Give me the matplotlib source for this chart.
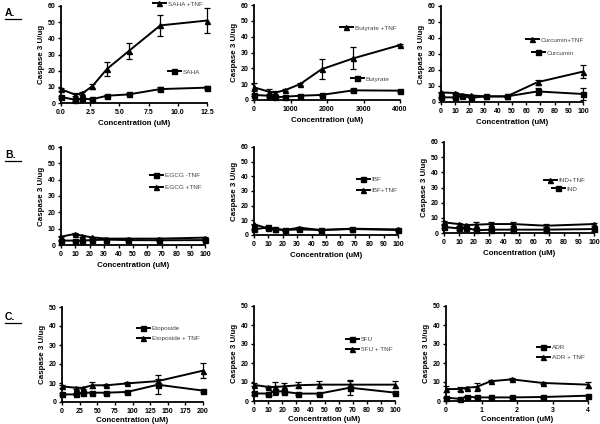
import matplotlib.pyplot as plt
from matplotlib.lines import Line2D

plt.rcParams['font.family'] = ['Liberation Sans', 'DejaVu Sans']

W, H = 600, 424

# ---- data ----
saha_x = [0, 1.24, 1.82, 2.67, 3.93, 5.78, 8.5, 12.5]
saha_tnf = [8.5, 5.1, 6.0, 10.3, 21.0, 32.0, 48.0, 51.0]
saha_tnf_err = [1.0, 0.8, 0.8, 1.5, 4.5, 5.0, 6.5, 7.5]
saha = [3.7, 2.0, 2.7, 2.3, 4.5, 5.3, 8.6, 9.5]
saha_err = [0.8, 0.5, 0.5, 0.5, 0.6, 0.6, 1.2, 1.0]

but_x = [0, 400, 580, 860, 1260, 1850, 2720, 4000]
but_tnf = [8.0, 5.3, 4.6, 6.3, 10.0, 19.4, 26.3, 34.7]
but_tnf_err = [2.5, 1.5, 0.8, 0.6, 0.6, 6.3, 7.0, 0.6]
but = [3.2, 2.7, 1.7, 2.1, 2.7, 3.2, 6.1, 5.9]
but_err = [0.6, 0.5, 0.5, 0.4, 0.4, 0.5, 0.8, 0.6]

conc100 = [0, 9.9, 14.6, 21.4, 31.5, 46.3, 68, 100]

cur_tnf = [6.0, 5.6, 4.6, 4.1, 3.5, 3.5, 12.4, 19.0]
cur_tnf_err = [0.5, 0.6, 0.6, 0.5, 0.4, 0.5, 1.5, 4.0]
cur = [2.9, 2.9, 3.7, 2.7, 3.5, 3.5, 6.6, 5.0]
cur_err = [0.5, 0.5, 0.6, 0.5, 0.4, 0.4, 2.0, 4.0]

egcg = [2.7, 2.7, 2.7, 3.0, 3.3, 3.0, 2.9, 3.0]
egcg_err = [0.4, 0.4, 0.4, 0.4, 0.4, 0.4, 0.4, 0.4]
egcg_tnf = [5.1, 6.8, 5.7, 4.7, 3.9, 3.9, 3.9, 4.5]
egcg_tnf_err = [0.5, 0.6, 0.5, 0.5, 0.5, 0.5, 0.5, 0.5]

ibf = [3.8, 5.2, 4.3, 3.4, 3.8, 3.4, 4.1, 3.4]
ibf_err = [0.6, 0.6, 0.5, 0.5, 0.5, 0.5, 0.6, 0.6]
ibf_tnf = [7.2, 4.5, 3.8, 3.4, 5.0, 3.4, 4.3, 3.8]
ibf_tnf_err = [0.6, 0.5, 0.5, 0.5, 0.6, 0.5, 0.5, 0.5]

ind_tnf = [7.0, 5.9, 5.2, 5.5, 5.9, 5.9, 4.8, 5.9]
ind_tnf_err = [0.8, 1.0, 1.0, 2.0, 1.5, 1.5, 1.0, 1.0]
ind = [4.0, 3.0, 3.5, 1.8, 2.2, 2.2, 2.2, 2.6]
ind_err = [1.0, 1.0, 1.0, 1.0, 1.0, 1.0, 1.0, 1.0]

eto_x = [0, 19.8, 29.1, 42.8, 63, 92.6, 136, 200]
eto = [4.0, 4.0, 4.9, 4.9, 4.9, 5.3, 9.1, 6.0]
eto_err = [0.5, 0.5, 0.6, 0.5, 0.5, 0.5, 5.0, 0.5]
eto_tnf = [8.2, 7.5, 7.4, 8.8, 8.8, 9.8, 11.0, 16.5]
eto_tnf_err = [0.6, 0.5, 0.5, 1.5, 0.5, 0.5, 1.0, 4.0]

fu = [4.0, 3.9, 5.3, 4.9, 3.9, 3.9, 7.0, 4.4]
fu_err = [0.6, 0.5, 2.0, 0.8, 0.5, 0.5, 4.0, 0.6]
fu_tnf = [8.5, 7.4, 7.4, 7.7, 8.3, 8.6, 8.6, 8.6]
fu_tnf_err = [0.8, 0.6, 2.5, 2.0, 1.5, 2.0, 2.0, 2.0]

adr_x = [0, 0.4, 0.58, 0.86, 1.26, 1.85, 2.72, 4]
adr = [1.8, 1.1, 2.3, 1.9, 1.9, 1.9, 2.1, 2.8]
adr_err = [0.4, 0.3, 0.4, 0.3, 0.3, 0.3, 0.3, 0.4]
adr_tnf = [6.3, 6.3, 7.0, 7.4, 10.4, 11.4, 9.5, 8.6]
adr_tnf_err = [1.5, 1.0, 0.6, 2.0, 0.6, 0.6, 0.6, 1.5]

fig = plt.figure(figsize=(6, 4.24), dpi=100)


def px_axes(l, r, t, b):
    return fig.add_axes([l / W, 1 - b / H, (r - l) / W, (b - t) / H])


def series(ax, x, y, err, marker):
    ax.errorbar(x, y, yerr=err, color='black', marker=marker, ms=3.6,
                lw=1.4, elinewidth=0.9, capsize=2, capthick=0.9,
                clip_on=False, zorder=3)


def entry(x, y, text, marker):
    h = Line2D([], [], color='black', marker=marker, ms=3.6, lw=1.4)
    fig.legend(handles=[h], labels=[text], loc='center left',
               bbox_to_anchor=(x / W, 1 - y / H), frameon=False,
               fontsize=4.6, handlelength=2.0, handletextpad=0.3,
               borderpad=0, borderaxespad=0, labelcolor='#444444')


def style(ax, xmax, xticks, xticklabels, ymax, xpad=3):
    ax.set_xlim(0, xmax)
    ax.set_ylim(0, ymax)
    ax.set_xticks(xticks)
    ax.set_xticklabels(xticklabels)
    ax.set_yticks(range(0, ymax + 1, 10))
    for s in ['top', 'right']:
        ax.spines[s].set_visible(False)
    for s in ['left', 'bottom']:
        ax.spines[s].set_linewidth(1.3)
    ax.tick_params(width=1.0, length=2.5, labelsize=5, pad=1.5)
    for lab in ax.get_xticklabels() + ax.get_yticklabels():
        lab.set_fontweight('bold')
    ax.set_xlabel('Concentration (uM)', fontsize=5.7, fontweight='bold', labelpad=xpad)
    ax.set_ylabel('Caspase 3 U/ug', fontsize=5.7, fontweight='bold', labelpad=2)


ticks100 = list(range(0, 101, 10))

# row A
ax = px_axes(61, 207, 6, 103)
series(ax, saha_x, saha_tnf, saha_tnf_err, '^')
series(ax, saha_x, saha, saha_err, 's')
style(ax, 12.5, [0, 2.5, 5, 7.5, 10, 12.5], ['0.0', '2.5', '5.0', '7.5', '10.0', '12.5'], 60)
entry(153, 4, 'SAHA +TNF', '^')
entry(168, 72, 'SAHA', 's')

ax = px_axes(254, 400, 5, 100)
series(ax, but_x, but_tnf, but_tnf_err, '^')
series(ax, but_x, but, but_err, 's')
style(ax, 4000, [0, 1000, 2000, 3000, 4000], ['0', '1000', '2000', '3000', '4000'], 60)
entry(340, 28, 'Butyrate +TNF', '^')
entry(351, 79, 'Butyrate', 's')

ax = px_axes(441, 583, 6, 102)
series(ax, conc100, cur_tnf, cur_tnf_err, '^')
series(ax, conc100, cur, cur_err, 's')
style(ax, 100, ticks100, [str(t) for t in ticks100], 60)
entry(526, 40, 'Curcumin+TNF', '^')
entry(532, 53, 'Curcumin', 's')

# row B
ax = px_axes(61, 205, 147, 245)
series(ax, conc100, egcg_tnf, egcg_tnf_err, '^')
series(ax, conc100, egcg, egcg_err, 's')
style(ax, 100, ticks100, [str(t) for t in ticks100], 60)
entry(150, 175, 'EGCG -TNF', 's')
entry(150, 187, 'EGCG +TNF', '^')

ax = px_axes(254, 398, 147, 235)
series(ax, conc100, ibf_tnf, ibf_tnf_err, '^')
series(ax, conc100, ibf, ibf_err, 's')
style(ax, 100, ticks100, [str(t) for t in ticks100], 60)
entry(357, 179, 'IBF', 's')
entry(357, 190, 'IBF+TNF', '^')

ax = px_axes(444, 594, 142, 233)
series(ax, conc100, ind_tnf, ind_tnf_err, '^')
series(ax, conc100, ind, ind_err, 's')
style(ax, 100, ticks100, [str(t) for t in ticks100], 60)
entry(544, 180, 'IND+TNF', '^')
entry(552, 189, 'IND', 's')

# row C
ax = px_axes(62, 203, 307, 402)
series(ax, eto_x, eto_tnf, eto_tnf_err, '^')
series(ax, eto_x, eto, eto_err, 's')
style(ax, 200, list(range(0, 201, 25)), [str(t) for t in range(0, 201, 25)], 50, xpad=1.5)
entry(137, 328, 'Etoposide', 's')
entry(137, 338, 'Etoposide + TNF', '^')

ax = px_axes(254, 395, 306, 401)
series(ax, conc100, fu_tnf, fu_tnf_err, '^')
series(ax, conc100, fu, fu_err, 's')
style(ax, 100, ticks100, [str(t) for t in ticks100], 50, xpad=1.5)
entry(346, 339, '5FU', 's')
entry(346, 349, '5FU + TNF', '^')

ax = px_axes(446, 588, 306, 401)
series(ax, adr_x, adr_tnf, adr_tnf_err, '^')
series(ax, adr_x, adr, adr_err, 's')
style(ax, 4, [0, 1, 2, 3, 4], ['0', '1', '2', '3', '4'], 50, xpad=1.5)
entry(537, 347, 'ADR', 's')
entry(537, 357, 'ADR + TNF', '^')

# panel letters, underlined
for letter, y in [('A.', 13), ('B.', 155), ('C.', 317)]:
    fig.text(5 / W, 1 - y / H, letter, fontsize=7.5, fontweight='bold', va='center')
    fig.add_artist(Line2D([5 / W, 21 / W], [1 - (y + 6) / H, 1 - (y + 6) / H],
                          color='black', lw=0.9))

fig.savefig('out.png', dpi=100)
